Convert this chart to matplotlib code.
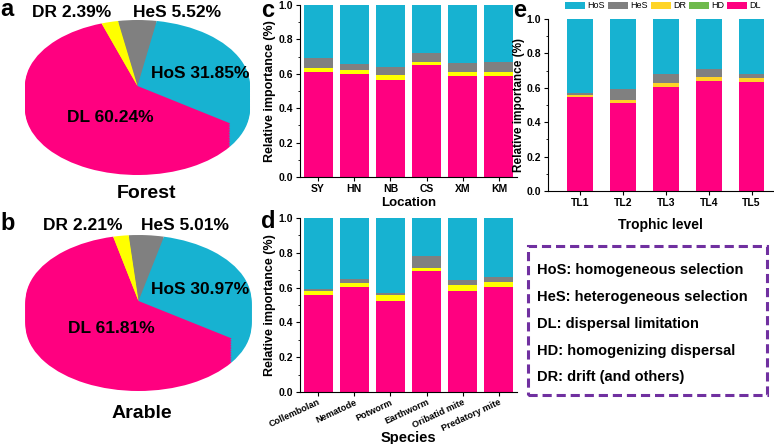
import matplotlib
matplotlib.use("Agg")
import matplotlib.pyplot as plt
import numpy as np
from matplotlib.patches import Rectangle

plt.rcParams['font.family'] = ['Liberation Sans', 'DejaVu Sans']

W, H = 774, 444

# ---------------- data ----------------
pie_labels = ["HeS", "HoS", "DL", "DR"]
forest_vals = [5.52, 31.85, 60.24, 2.39]
arable_vals = [5.01, 30.97, 61.81, 2.21]

loc_cats = ["SY", "HN", "NB", "CS", "XM", "KM"]
loc_DL = [0.610, 0.599, 0.566, 0.651, 0.585, 0.585]
loc_DR = [0.024, 0.021, 0.025, 0.020, 0.027, 0.024]
loc_HeS = [0.060, 0.039, 0.049, 0.050, 0.049, 0.062]
loc_HoS = [0.306, 0.341, 0.360, 0.279, 0.339, 0.329]

sp_cats = ["Collembolan", "Nematode", "Potworm", "Earthworm", "Oribatid mite", "Predatory mite"]
sp_DL = [0.559, 0.602, 0.523, 0.695, 0.582, 0.602]
sp_DR = [0.020, 0.026, 0.033, 0.020, 0.033, 0.032]
sp_HeS = [0.011, 0.023, 0.013, 0.065, 0.027, 0.025]
sp_HoS = [0.410, 0.349, 0.431, 0.220, 0.358, 0.341]

tl_cats = ["TL1", "TL2", "TL3", "TL4", "TL5"]
tl_DL = [0.548, 0.514, 0.602, 0.641, 0.631]
tl_HD = [0.0, 0.0, 0.0, 0.0, 0.0]
tl_DR = [0.012, 0.017, 0.023, 0.023, 0.025]
tl_HeS = [0.008, 0.060, 0.058, 0.043, 0.025]
tl_HoS = [0.432, 0.409, 0.317, 0.293, 0.319]

definitions = ["HoS: homogeneous selection",
               "HeS: heterogeneous selection",
               "DL: dispersal limitation",
               "HD: homogenizing dispersal",
               "DR: drift (and others)"]

# ---------------- styles ----------------
C_HOS = '#17B2D1'
C_HES = '#808080'
C_DR = '#FFFF00'
C_DR_E = '#FFD426'
C_HD = '#6FBA4C'
C_DL = '#FF0080'
pie_colors = [C_HES, C_HOS, C_DL, C_DR]

fig = plt.figure(figsize=(W / 100, H / 100), dpi=100)


def ftext(x, y, s, **kw):
    return fig.text(x / W, 1 - y / H, s, **kw)


# ---------------- pies ----------------
def draw_pie(vals, start, box, cx, cy, rx, ry, depth):
    x0, x1, ytop, ybot = box
    ax = fig.add_axes([x0 / W, 1 - ybot / H, (x1 - x0) / W, (ybot - ytop) / H])
    n = 14
    for k in range(n, -1, -1):
        off = -(depth * k / n) / ry
        ax.pie(vals, colors=pie_colors, startangle=start, counterclock=False,
               center=(0, off), radius=1,
               wedgeprops=dict(linewidth=0, antialiased=True))
    ax.set_aspect('auto')
    ax.set_xlim((x0 - cx) / rx, (x1 - cx) / rx)
    ax.set_ylim((cy - ybot) / ry, (cy - ytop) / ry)
    ax.axis('off')
    return ax


draw_pie(forest_vals, 100, (0, 260, 0, 200), 137.5, 86, 112.5, 66, 23)
draw_pie(arable_vals, 95, (0, 260, 215, 420), 138.5, 301, 113, 66, 24)

pie_kw = dict(fontsize=12.5, fontweight='bold', ha='center', va='center')
ftext(72, 12.5, "DR 2.39%", **pie_kw)
ftext(177, 12.5, "HeS 5.52%", **pie_kw)
ftext(200, 73, "HoS 31.85%", **pie_kw)
ftext(110, 118, "DL 60.24%", **pie_kw)
ftext(147, 193, "Forest", fontsize=14, fontweight='bold', ha='center', va='center')

ftext(83, 225, "DR 2.21%", **pie_kw)
ftext(185, 225, "HeS 5.01%", **pie_kw)
ftext(200, 290, "HoS 30.97%", **pie_kw)
ftext(111, 328, "DL 61.81%", **pie_kw)
ftext(142, 413, "Arable", fontsize=14, fontweight='bold', ha='center', va='center')

let_kw = dict(fontsize=17, fontweight='bold', ha='left', va='baseline')
ftext(0, 16.5, "a", **let_kw)
ftext(0, 230, "b", **let_kw)
ftext(261, 17, "c", **let_kw)
ftext(261, 228, "d", **let_kw)
ftext(513, 17, "e", **let_kw)


# ---------------- bar panels ----------------
def style_ax(ax, ylabel_fs=9, tick_fs=7.5, labelpad=1.5):
    ax.set_ylim(0, 1.0)
    ax.set_yticks(np.arange(0, 1.01, 0.2))
    ax.set_yticks(np.arange(0, 1.01, 0.1), minor=True)
    ax.yaxis.set_major_formatter(matplotlib.ticker.FormatStrFormatter('%.1f'))
    for s in ['top', 'right']:
        ax.spines[s].set_visible(False)
    for s in ['left', 'bottom']:
        ax.spines[s].set_linewidth(0.8)
    ax.tick_params(axis='both', which='major', direction='out', length=3, width=0.8,
                   labelsize=tick_fs, pad=2)
    ax.tick_params(axis='y', which='minor', direction='out', length=1.8, width=0.6)
    ax.tick_params(axis='x', which='minor', length=0)
    for lab in ax.get_yticklabels() + ax.get_xticklabels():
        lab.set_fontweight('bold')
    ax.set_ylabel("Relative importance (%)", fontsize=ylabel_fs, fontweight='bold',
                  labelpad=labelpad)


def stack(ax, cats, layers, colors, width, labels):
    x = np.arange(len(cats))
    bottom = np.zeros(len(cats))
    for vals, col, lab in zip(layers, colors, labels):
        ax.bar(x, vals, width, bottom=bottom, color=col, linewidth=0, label=lab)
        bottom = bottom + np.array(vals)
    ax.set_xticks(x)
    ax.set_xticklabels(cats)
    return x


# panel c
axc = fig.add_axes([300 / W, 1 - 177 / H, 217 / W, 172 / H])
stack(axc, loc_cats, [loc_DL, loc_DR, loc_HeS, loc_HoS],
      [C_DL, C_DR, C_HES, C_HOS], 0.8, ["DL", "DR", "HeS", "HoS"])
axc.set_xlim(-0.5, 5.5)
style_ax(axc)
axc.set_xlabel("Location", fontsize=9.5, fontweight='bold', labelpad=2)

# panel d
axd = fig.add_axes([300 / W, 1 - 392 / H, 217 / W, 174 / H])
stack(axd, sp_cats, [sp_DL, sp_DR, sp_HeS, sp_HoS],
      [C_DL, C_DR, C_HES, C_HOS], 0.8, ["DL", "DR", "HeS", "HoS"])
axd.set_xlim(-0.5, 5.5)
style_ax(axd)
axd.tick_params(axis='x', pad=1)
for lab in axd.get_xticklabels():
    lab.set_rotation(25)
    lab.set_ha('right')
    lab.set_rotation_mode('anchor')
    lab.set_fontsize(6.6)
axd.set_xlabel("Species", fontsize=10.5, fontweight='bold')
axd.xaxis.label.set_va('center')
axd.xaxis.set_label_coords(0.5, -0.262)

# panel e
axe = fig.add_axes([548 / W, 1 - 191 / H, 225 / W, 172 / H])
stack(axe, tl_cats, [tl_DL, tl_HD, tl_DR, tl_HeS, tl_HoS],
      [C_DL, C_HD, C_DR_E, C_HES, C_HOS], 0.6, ["DL", "HD", "DR", "HeS", "HoS"])
axe.set_xlim(-0.75, 4.5)
style_ax(axe, ylabel_fs=8.5, tick_fs=7.5, labelpad=1)
axe.set_xlabel("Trophic level", fontsize=10, fontweight='bold')
axe.xaxis.set_label_coords(0.5, -0.155)

h, l = axe.get_legend_handles_labels()
order = [4, 3, 2, 1, 0]
fig.legend([h[i] for i in order], [l[i] for i in order], ncol=5,
           loc='center', bbox_to_anchor=(663 / W, 1 - 6 / H), frameon=False,
           fontsize=6.5, handlelength=2.2, handleheight=0.85, handletextpad=0.25,
           columnspacing=0.35, borderpad=0, borderaxespad=0)

# definition box
rect = Rectangle((528 / W, 1 - 395 / H), (767 - 528) / W, (395 - 246) / H,
                 transform=fig.transFigure, fill=False, edgecolor='#7030A0',
                 linewidth=2.2, linestyle=(0, (3, 1.6)))
fig.add_artist(rect)
ys = [270, 297, 324, 351, 377]
for yy, s in zip(ys, definitions):
    ftext(537, yy, s, fontsize=10.5, fontweight='bold', ha='left', va='center')

fig.savefig("out.png", dpi=100)
